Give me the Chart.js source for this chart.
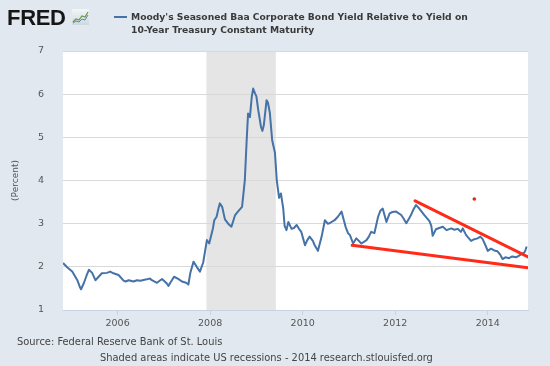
<!DOCTYPE html>
<html>
<head>
<meta charset="utf-8">
<script src="https://cdn.jsdelivr.net/npm/chart.js@4.4.1/dist/chart.umd.min.js"></script>
<style>
  html, body { margin: 0; padding: 0; background: #e1e8f0; }
  #wrap { position: relative; width: 550px; height: 366px; overflow: hidden; background: #e1e8f0; }
  canvas { position: absolute; left: 0; top: 0; }
  .txt { position: absolute; white-space: nowrap; }
  #fred { left: 7px; top: 6.5px; font: bold 22px "Liberation Sans", Arial, sans-serif; line-height: 22px; letter-spacing: -0.3px; color: #161616; }
  #icon { left: 72px; top: 9px; }
  #legdash { position: absolute; left: 114px; top: 15.5px; width: 13px; height: 2px; background: #4572a7; }
  #legtxt { left: 131px; top: 9.5px; font: bold 9.2px "DejaVu Sans", sans-serif; line-height: 13px; color: #3a3a3a; }
  #src { left: 17px; top: 335.5px; font: 9.9px "DejaVu Sans", sans-serif; line-height: 11px; color: #444; }
  #shade { left: 100px; top: 351.5px; font: 9.9px "DejaVu Sans", sans-serif; line-height: 11px; color: #444; }
</style>
</head>
<body>
<div id="wrap">
  <canvas id="c" width="550" height="366"></canvas>
  <div class="txt" id="fred">FRED</div>
  <svg class="txt" id="icon" width="17" height="16" viewBox="0 0 17 16">
    <defs><linearGradient id="g" x1="0" y1="0" x2="0" y2="1"><stop offset="0" stop-color="#f4f6f8"/><stop offset="1" stop-color="#cfd8df"/></linearGradient></defs>
    <rect x="0" y="0" width="17" height="16" fill="url(#g)"/>
    <polyline points="1,13 4,10 7,11 10,7 13,8 16,3" fill="none" stroke="#6a9a3a" stroke-width="1.2"/>
    <polyline points="1,14 4,12 7,13 10,10 13,11 16,6" fill="none" stroke="#5a86b8" stroke-width="1"/>
  </svg>
  <div id="legdash"></div>
  <div class="txt" id="legtxt">Moody's Seasoned Baa Corporate Bond Yield Relative to Yield on<br>10-Year Treasury Constant Maturity</div>
  <div class="txt" id="src">Source: Federal Reserve Bank of St. Louis</div>
  <div class="txt" id="shade">Shaded areas indicate US recessions - 2014 research.stlouisfed.org</div>
</div>
<script>
// ---- Data ----
const years = [
  2004.82, 2004.91, 2005.02, 2005.13, 2005.19, 2005.21, 2005.27, 2005.33, 2005.38, 2005.45,
  2005.52, 2005.59, 2005.66, 2005.77, 2005.84, 2005.91, 2006.02, 2006.13, 2006.17, 2006.24,
  2006.34, 2006.42, 2006.49, 2006.63, 2006.70, 2006.74, 2006.85, 2006.96, 2007.06, 2007.10,
  2007.22, 2007.31, 2007.39, 2007.48, 2007.53, 2007.57, 2007.64, 2007.71, 2007.78, 2007.85,
  2007.93, 2007.98, 2008.06, 2008.09, 2008.14, 2008.18, 2008.21, 2008.26, 2008.32, 2008.39,
  2008.46, 2008.54, 2008.60, 2008.69, 2008.73, 2008.75, 2008.79, 2008.82, 2008.86, 2008.90,
  2008.93, 2008.97, 2009.00, 2009.04, 2009.10, 2009.13, 2009.16, 2009.22, 2009.25, 2009.29,
  2009.34, 2009.40, 2009.44, 2009.49, 2009.53, 2009.58, 2009.61, 2009.65, 2009.69, 2009.76,
  2009.81, 2009.87, 2009.92, 2009.97, 2010.05, 2010.10, 2010.15, 2010.22, 2010.26, 2010.33,
  2010.41, 2010.48, 2010.54, 2010.58, 2010.69, 2010.76, 2010.84, 2010.89, 2010.93, 2010.98,
  2011.02, 2011.09, 2011.16, 2011.27, 2011.38, 2011.43, 2011.48, 2011.55, 2011.63, 2011.68,
  2011.73, 2011.81, 2011.88, 2011.94, 2012.02, 2012.13, 2012.18, 2012.24, 2012.29, 2012.34,
  2012.39, 2012.45, 2012.52, 2012.63, 2012.74, 2012.78, 2012.81, 2012.88, 2012.95, 2013.03,
  2013.11, 2013.21, 2013.28, 2013.35, 2013.42, 2013.46, 2013.53, 2013.56, 2013.64, 2013.71,
  2013.78, 2013.84, 2013.89, 2013.95, 2014.00, 2014.07, 2014.14, 2014.21, 2014.27, 2014.32,
  2014.38, 2014.46, 2014.53, 2014.61, 2014.66, 2014.72, 2014.79, 2014.82, 2014.84
];
const spreadValues = [
  2.09, 1.99, 1.89, 1.69, 1.52, 1.48, 1.62, 1.80, 1.93, 1.86,
  1.69, 1.77, 1.85, 1.86, 1.89, 1.85, 1.81, 1.68, 1.66, 1.69,
  1.66, 1.69, 1.68, 1.71, 1.73, 1.69, 1.63, 1.72, 1.62, 1.56,
  1.77, 1.72, 1.66, 1.63, 1.59, 1.85, 2.12, 2.00, 1.89, 2.10,
  2.62, 2.54, 2.89, 3.08, 3.16, 3.35, 3.47, 3.39, 3.10, 3.00,
  2.93, 3.20, 3.28, 3.39, 3.80, 4.01, 4.94, 5.55, 5.47, 5.94,
  6.13, 6.02, 5.95, 5.63, 5.24, 5.15, 5.28, 5.86, 5.80, 5.57,
  4.94, 4.65, 4.01, 3.60, 3.70, 3.35, 2.95, 2.85, 3.04, 2.88,
  2.90, 2.97, 2.88, 2.81, 2.50, 2.62, 2.70, 2.60, 2.50, 2.37,
  2.70, 3.08, 3.00, 3.01, 3.08, 3.16, 3.28, 3.08, 2.92, 2.78,
  2.74, 2.54, 2.66, 2.54, 2.62, 2.70, 2.81, 2.78, 3.16, 3.30,
  3.35, 3.04, 3.24, 3.27, 3.28, 3.20, 3.12, 3.01, 3.10, 3.20,
  3.32, 3.43, 3.35, 3.20, 3.06, 2.95, 2.72, 2.87, 2.90, 2.93,
  2.85, 2.89, 2.86, 2.88, 2.81, 2.89, 2.74, 2.70, 2.60, 2.64,
  2.66, 2.70, 2.64, 2.50, 2.37, 2.42, 2.38, 2.36, 2.28, 2.18,
  2.22, 2.20, 2.24, 2.22, 2.25, 2.29, 2.33, 2.40, 2.47
];
const upperTrendYears = [2012.43, 2014.87];
const upperTrendValues = [3.53, 2.23];
const lowerTrendYears = [2011.07, 2014.87];
const lowerTrendValues = [2.50, 1.98];
const markerYears = [2013.71];
const markerValues = [3.57];
const recession = [2007.92, 2009.42];
const yearTicks = [2006, 2008, 2010, 2012, 2014];
const percentTicks = [1, 2, 3, 4, 5, 6, 7];

const pts = (xs, ys) => xs.map((x, i) => ({ x: x, y: ys[i] }));

const plotBg = {
  id: 'plotBg',
  beforeDraw(chart) {
    const { ctx, chartArea: a, scales } = chart;
    ctx.save();
    ctx.fillStyle = '#ffffff';
    ctx.fillRect(a.left, a.top, a.right - a.left, a.bottom - a.top);
    const x0 = scales.x.getPixelForValue(recession[0]);
    const x1 = scales.x.getPixelForValue(recession[1]);
    ctx.fillStyle = '#e5e5e5';
    ctx.fillRect(x0, a.top, x1 - x0, a.bottom - a.top);
    ctx.restore();
  }
};

new Chart(document.getElementById('c'), {
  type: 'line',
  data: {
    datasets: [
      { data: pts(upperTrendYears, upperTrendValues), borderColor: '#ff2a17', borderWidth: 3, pointRadius: 0, borderCapStyle: 'round' },
      { data: pts(lowerTrendYears, lowerTrendValues), borderColor: '#ff2a17', borderWidth: 3, pointRadius: 0, borderCapStyle: 'round' },
      { data: pts(markerYears, markerValues), showLine: false, pointRadius: 1.8, pointBackgroundColor: '#e8231a', pointBorderWidth: 0 },
      { data: pts(years, spreadValues), borderColor: '#4572a7', borderWidth: 2, pointRadius: 0, tension: 0, borderJoinStyle: 'round' }
    ]
  },
  options: {
    responsive: false,
    animation: false,
    events: [],
    layout: { padding: { top: 51, right: 22, bottom: 0, left: 0 } },
    plugins: { legend: { display: false }, tooltip: { enabled: false } },
    scales: {
      x: {
        type: 'linear',
        min: 2004.82,
        max: 2014.87,
        afterBuildTicks: s => { s.ticks = yearTicks.map(v => ({ value: v })); },
        afterFit: s => { s.height = 56; },
        border: { display: true, color: '#c5d3e2', width: 1 },
        grid: { drawOnChartArea: false, drawTicks: true, tickLength: 5, color: '#c5d3e2' },
        ticks: { color: '#555', padding: 3, maxRotation: 0, font: { family: 'DejaVu Sans', size: 9.5 }, callback: v => String(v) }
      },
      y: {
        min: 1,
        max: 7,
        afterBuildTicks: s => { s.ticks = percentTicks.map(v => ({ value: v })); },
        afterFit: s => { s.width = 63; },
        border: { display: false },
        grid: { color: '#d9d9d9', drawTicks: false, lineWidth: 1 },
        ticks: { color: '#555', padding: 19, font: { family: 'DejaVu Sans', size: 9.5 }, callback: v => String(v) },
        title: { display: true, text: '(Percent)', color: '#555', font: { family: 'DejaVu Sans', size: 9 }, padding: { top: 10, bottom: 0 } }
      }
    }
  },
  plugins: [plotBg]
});
</script>
</body>
</html>
